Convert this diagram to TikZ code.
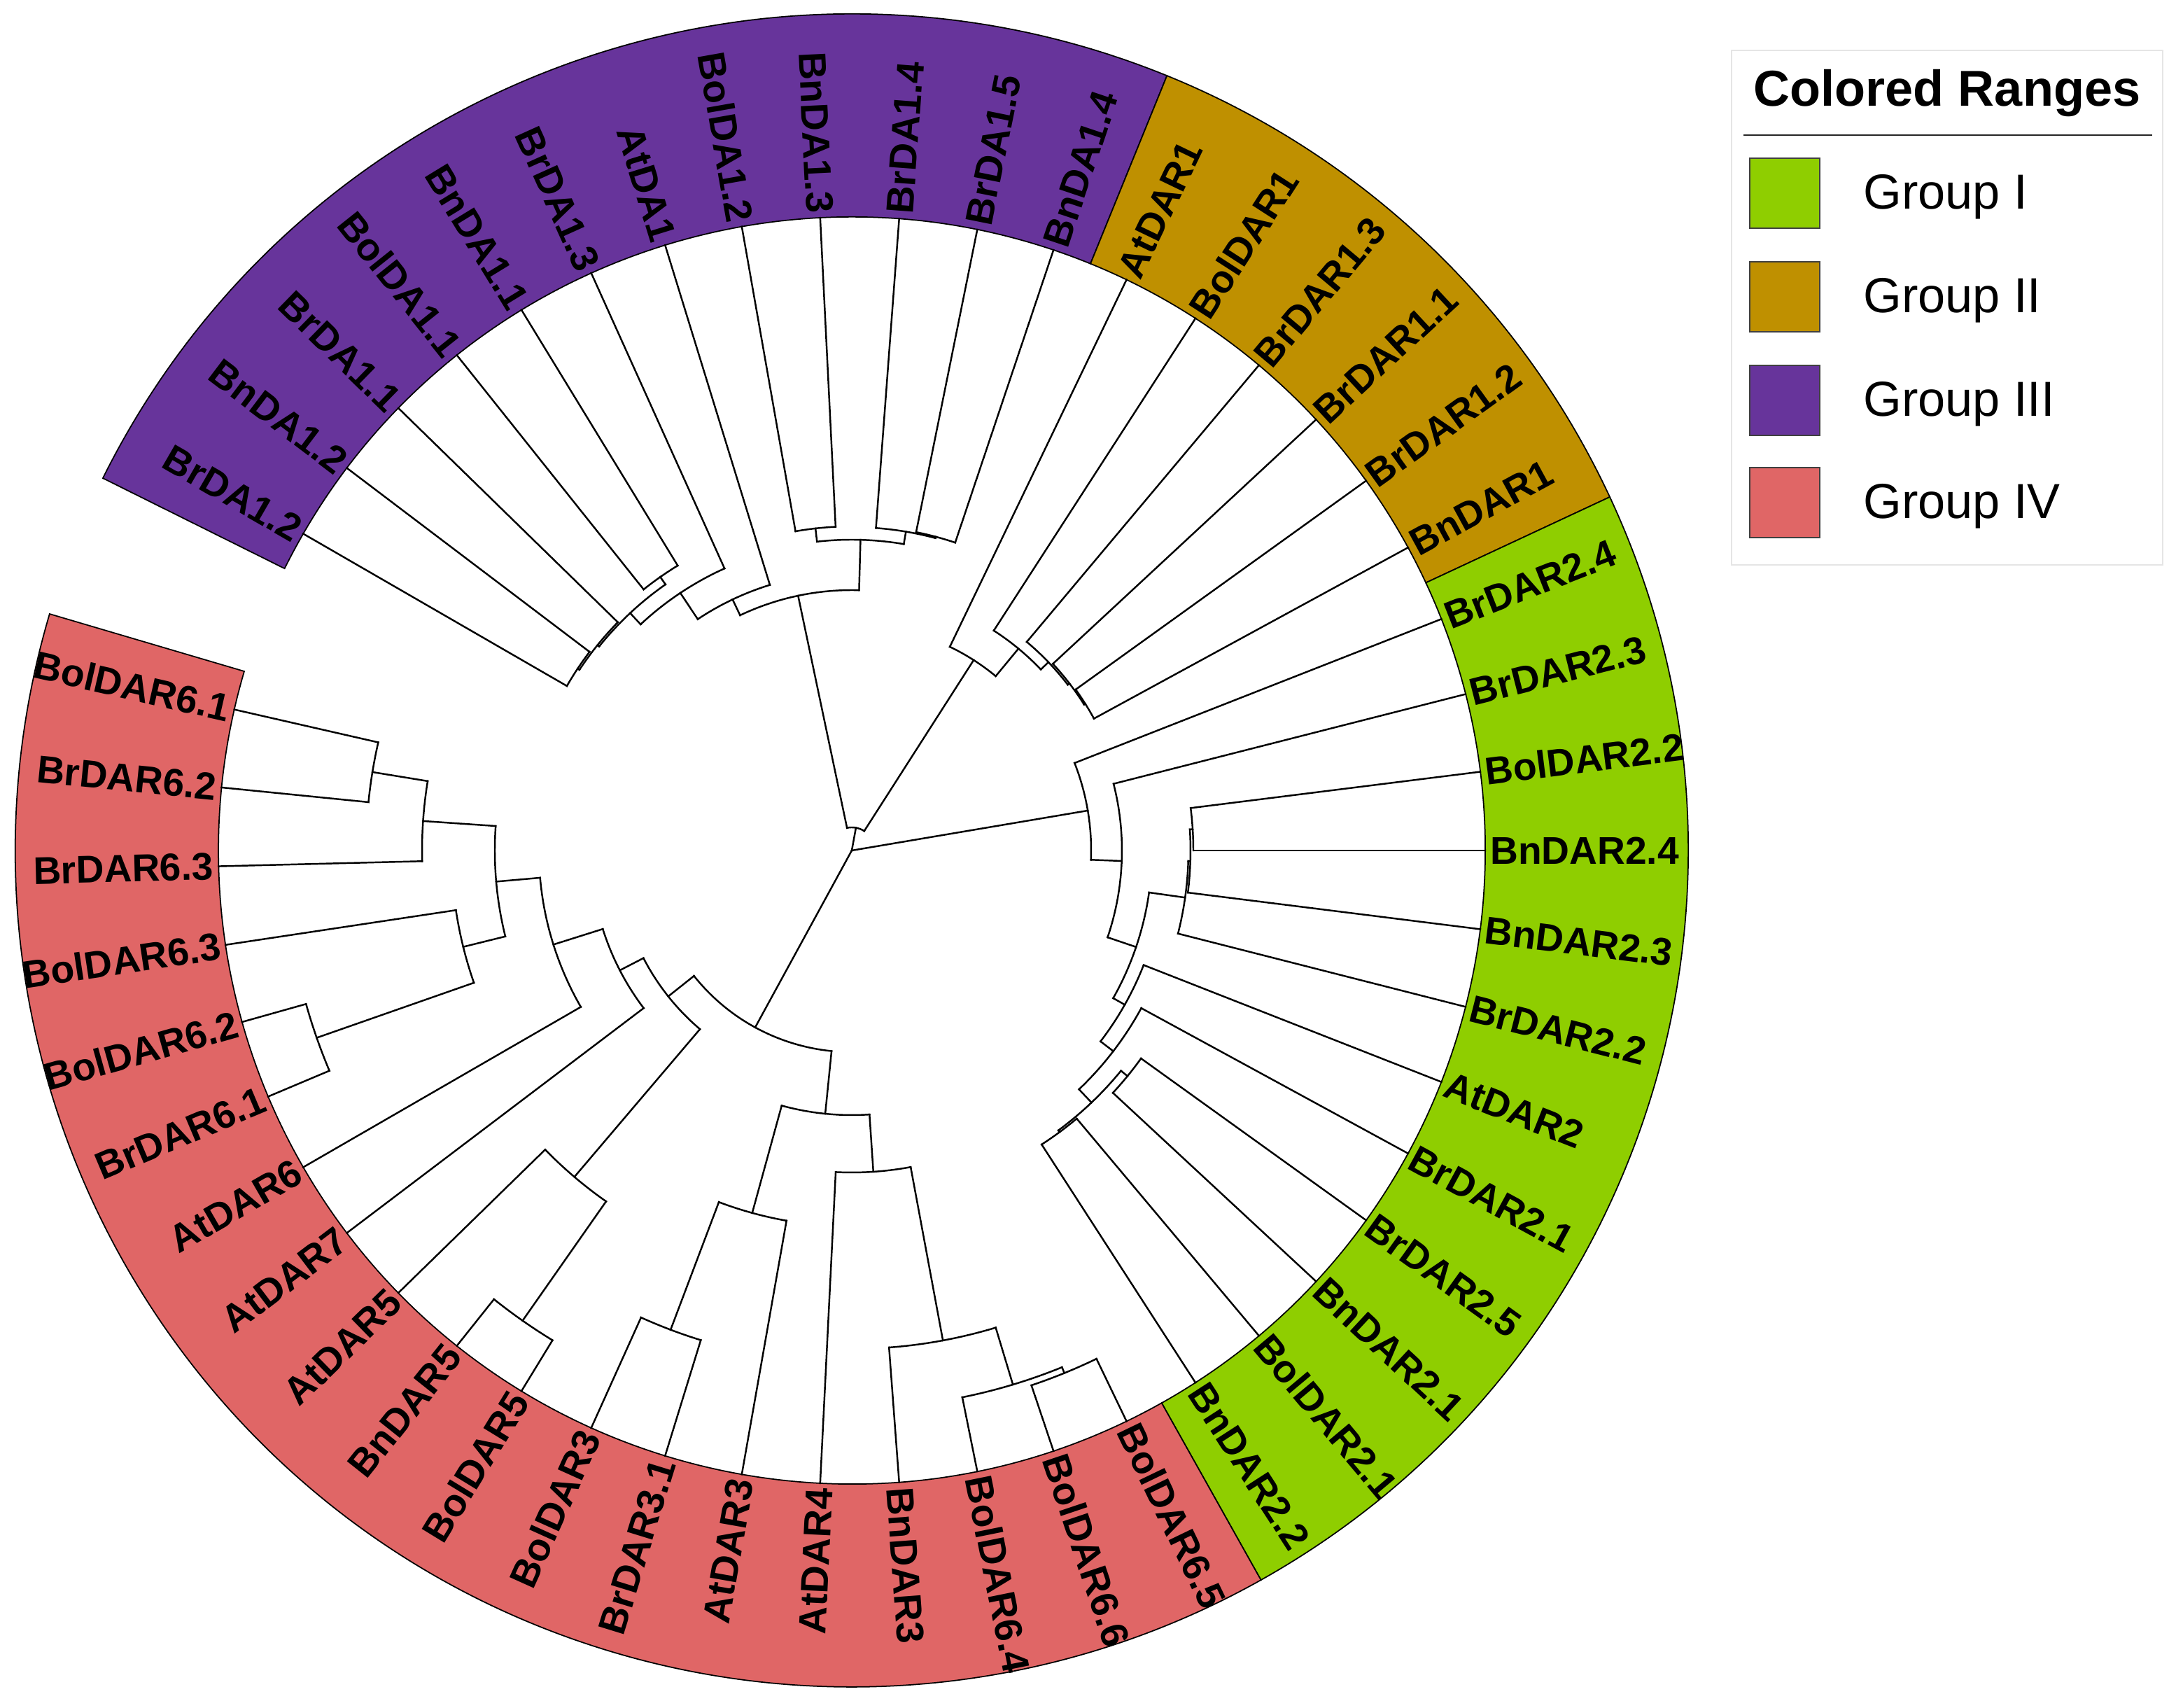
\documentclass[tikz,border=0pt]{standalone}
\usepackage{fontspec}
\setmainfont{Liberation Sans}
\usepackage{tikz}

\definecolor{groupI}{RGB}{143,206,0}
\definecolor{groupII}{RGB}{191,144,0}
\definecolor{groupIII}{RGB}{103,52,155}
\definecolor{groupIV}{RGB}{224,102,102}

\begin{document}
\begin{tikzpicture}[
	branch/.style={line width=0.7pt, line cap=rect},
	band/.style={draw=black, line width=0.5pt},
	taxon/.style={font=\fontsize{15.7}{18}\selectfont\bfseries, inner sep=1pt},
	swatch/.style={draw=black!75, line width=0.6pt, minimum size=1cm, inner sep=0pt, anchor=south west},
	entry/.style={font=\fontsize{20}{24}\selectfont, anchor=base west}]

	\useasboundingbox (-12.17,-12.25) rectangle (18.82,12.15);
	\coordinate (root) at (0,0);

	\foreach \rbeg/\rend/\rcol in {153.57/67.86/groupIII, 67.86/25/groupII, 25/-60.71/groupI, -60.71/-196.43/groupIV}
		\filldraw[band, fill=\rcol] (\rbeg:9.05) arc[start angle=\rbeg, end angle=\rend, radius=9.05]
			-- (\rend:11.95) arc[start angle=\rend, end angle=\rbeg, radius=11.95] -- cycle;

	\foreach \lang/\lpar/\ltxt [count=\i] in {85.71/4.62/BrDA1.4, 78.57/4.64/BrDA1.5, 71.43/4.64/BnDA1.4,
		64.29/3.23/AtDAR1, 57.14/3.74/BolDAR1, 50/3.89/BrDAR1.3, 42.86/3.92/BrDAR1.1, 35.71/3.94/BrDAR1.2,
		28.57/3.94/BnDAR1, 21.43/3.42/BrDAR2.4, 14.29/3.86/BrDAR2.3, 7.14/4.88/BolDAR2.2, 0/4.88/BnDAR2.4,
		-7.14/4.84/BnDAR2.3, -14.29/4.81/BrDAR2.2, -21.43/4.48/AtDAR2, -28.57/4.71/BrDAR2.1,
		-35.71/5.09/BrDAR2.5, -42.86/5.09/BnDAR2.1, -50/5.00/BolDAR2.1, -57.14/5.00/BnDAR2.2,
		-64.29/8.06/BolDAR6.5, -71.43/8.06/BolDAR6.6, -78.57/7.97/BolDAR6.4, -85.71/7.12/BnDAR3} {
		\coordinate (tipR\i) at (\lang:9.05);
		\draw[branch] (\lang:\lpar) -- (tipR\i);
		\node[taxon, rotate=\lang, anchor=west] (taxR\i) at (\lang:9.08) {\ltxt};
	}

	\foreach \lang/\lpar/\ltxt [count=\i] in {150/4.70/BrDA1.2, 142.86/4.70/BnDA1.2, 135.71/4.67/BrDA1.1,
		128.57/4.77/BolDA1.1, 121.43/4.77/BnDA1.1, 114.29/4.42/BrDA1.3, 107.14/3.97/AtDA1,
		100/4.63/BolDA1.2, 92.86/4.63/BnDA1.3, -92.86/4.60/AtDAR4, -100/5.37/AtDAR3,
		-107.14/7.32/BrDAR3.1, -114.29/7.32/BolDAR3, -121.43/8.20/BolDAR5, -128.57/8.20/BnDAR5,
		-135.71/6.12/AtDAR5, -142.86/3.73/AtDAR7, -150/4.47/AtDAR6, -157.14/8.10/BrDAR6.1,
		-164.29/8.10/BolDAR6.2, -171.43/5.72/BolDAR6.3, -178.57/6.14/BrDAR6.3,
		-185.71/6.94/BrDAR6.2, -192.86/6.94/BolDAR6.1} {
		\coordinate (tipL\i) at (\lang:9.05);
		\draw[branch] (\lang:\lpar) -- (tipL\i);
		\node[taxon, rotate=\lang+180, anchor=east] (taxL\i) at (\lang:9.08) {\ltxt};
	}

	\foreach \cang/\crad/\cpar/\cbeg/\cend [count=\i] in {
		79.6/0.33/0/101.9/57.37, 101.9/3.72/0.33/115.4/88.39, 88.39/4.44/3.72/96.43/80.36,
		96.43/4.63/4.44/100/92.86, 80.36/4.62/4.44/85.71/75, 75/4.64/4.62/78.57/71.43,
		115.4/3.97/3.72/123.66/107.14, 123.66/4.42/3.97/133.04/114.29, 133.04/4.64/4.42/141.07/125,
		125/4.77/4.64/128.57/121.43, 141.07/4.67/4.64/146.43/135.71, 146.43/4.70/4.67/150/142.86,
		57.37/3.23/0.33/64.29/50.45, 50.45/3.74/3.23/57.14/43.75, 43.75/3.89/3.74/50/37.5,
		37.5/3.92/3.89/42.86/32.14, 32.14/3.94/3.92/35.71/28.57,
		9.6/3.42/0/21.43/-2.23, -2.23/3.86/3.42/14.29/-18.75, -18.75/4.29/3.86/-8.04/-29.46,
		-8.04/4.81/4.29/-1.79/-14.29, -1.79/4.84/4.81/3.57/-7.14, 3.57/4.88/4.84/7.14/0,
		-29.46/4.48/4.29/-21.43/-37.5, -37.5/4.71/4.48/-28.57/-46.43, -46.43/4.97/4.71/-39.29/-53.57,
		-39.29/5.09/4.97/-35.71/-42.86, -53.57/5.00/4.97/-50/-57.14,
		-118.64/2.88/0/-141.52/-95.76, -141.52/3.35/2.88/-152.68/-130.36, -152.68/3.73/3.35/-162.5/-142.86,
		-162.5/4.47/3.73/-175/-150, -175/5.10/4.47/-183.93/-166.07, -183.93/6.14/5.10/-189.29/-178.57,
		-189.29/6.94/6.14/-192.86/-185.71, -166.07/5.72/5.10/-171.43/-160.71, -160.71/8.10/5.72/-164.29/-157.14,
		-130.36/6.12/3.35/-135.71/-125, -125/8.20/6.12/-128.57/-121.43,
		-95.76/3.78/2.88/-105.36/-86.16, -105.36/5.37/3.78/-110.71/-100, -110.71/7.32/5.37/-114.29/-107.14,
		-86.16/4.60/3.78/-92.86/-79.46, -79.46/7.12/4.60/-85.71/-73.21, -73.21/7.97/7.12/-78.57/-67.86,
		-67.86/8.06/7.97/-71.43/-64.29} {
		\coordinate (clade\i) at (\cang:\crad);
		\draw[branch] (\cang:\cpar) -- (clade\i);
		\draw[branch] (\cbeg:\crad) arc[start angle=\cbeg, end angle=\cend, radius=\crad];
	}

	\draw[gray!20, line width=0.8pt] (12.57,4.08) rectangle (18.73,11.43);
	\node[font=\fontsize{20.5}{24}\selectfont\bfseries, anchor=base] (title) at (15.65,10.63) {Colored Ranges};
	\draw[black!85, line width=0.8pt] (12.74,10.22) -- (18.58,10.22);
	\foreach \kcol/\ktxt/\ky [count=\i] in {groupI/Group I/8.88, groupII/Group II/7.40,
		groupIII/Group III/5.92, groupIV/Group IV/4.46} {
		\node[swatch, fill=\kcol] (key\i) at (12.82,\ky) {};
		\node[entry] (entry\i) at (14.33,{\ky+0.28}) {\ktxt};
	}
\end{tikzpicture}
\end{document}
